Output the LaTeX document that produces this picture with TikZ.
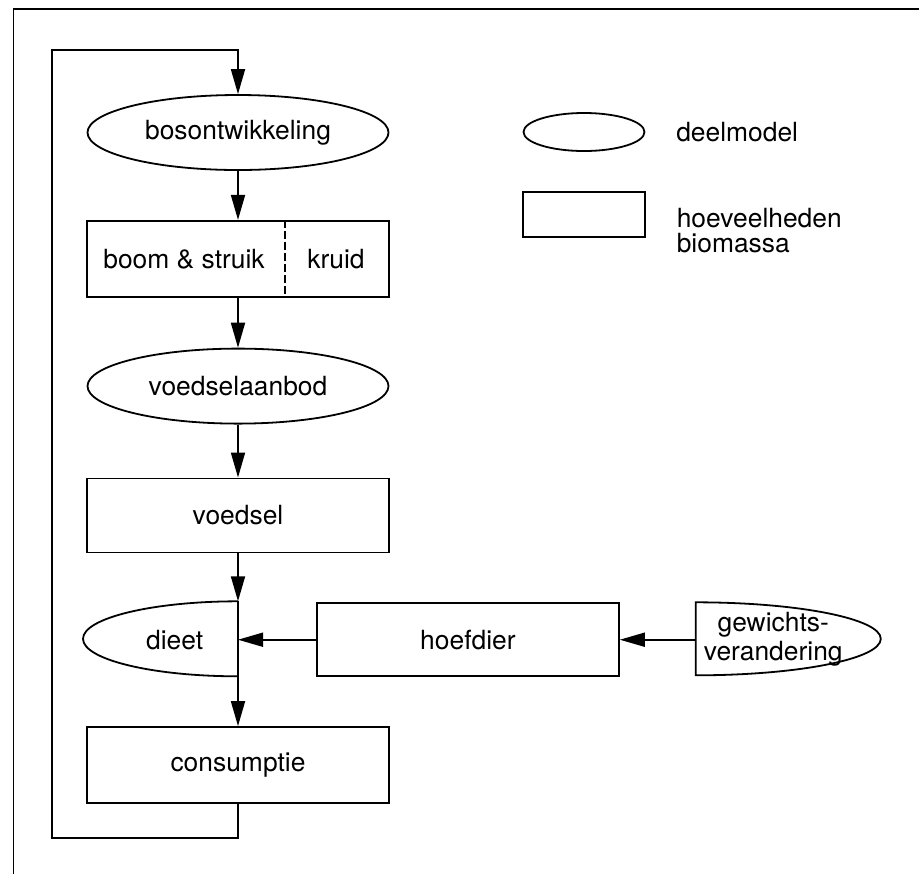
\documentclass[tikz,border=0pt]{standalone}
\usepackage{fontspec}
\setmainfont{TeX Gyre Heros}
\usetikzlibrary{arrows.meta,positioning,shapes.geometric}
\tikzset{
  deelmodel/.style={draw, ellipse, minimum width=150.5pt, minimum height=37.5pt, inner sep=0pt},
  biomassa/.style={draw, rectangle, minimum width=151pt, minimum height=38pt, inner sep=0pt},
  halfmodel/.style={minimum width=#1, minimum height=36.5pt, inner sep=0pt},
  plain/.style={inner sep=0pt, align=center},
  arrow/.style={-{Triangle[length=12.5pt, width=7pt]}},
  divider/.style={dash pattern=on 4pt off 1.5pt}
}

\begin{document}
\begin{tikzpicture}[node distance=24.5pt, line width=0.9pt, font=\fontsize{13.2}{14.5}\selectfont]
  \useasboundingbox (0,0) rectangle (459.5pt,-437pt);
  \draw (6.75pt,-437pt) |- (459.5pt,-4.5pt);

  \node[deelmodel] (bos) at (119pt,-66.25pt) {bosontwikkeling};
  \node[biomassa, below=of bos] (stock) {};
  \node[plain] (boom) at ([xshift=-27pt]stock.center) {boom \& struik};
  \node[plain] (kruid) at ([xshift=49pt]stock.center) {kruid};
  \draw[divider] ([xshift=23.5pt]stock.north) -- ([xshift=23.5pt]stock.south);
  \node[deelmodel, below=25pt of stock] (aanbod) {voedselaanbod};
  \node[biomassa, below=26.5pt of aanbod, minimum height=37pt] (voedsel) {voedsel};
  \node[halfmodel=77.5pt, below=24pt of voedsel, anchor=north east, minimum height=37.5pt] (dieet) {};
  \node[plain] (dieettxt) at ([xshift=7.5pt]dieet.center) {dieet};
  \node[biomassa, below=24pt of dieet.south east] (cons) {consumptie};
  \node[biomassa, right=39pt of dieet, minimum height=36.5pt] (hoef) {hoefdier};
  \node[halfmodel=92.5pt, right=38pt of hoef] (gew) {};
  \node[plain] (gewtxt) at ([xshift=-8pt]gew.center) {gewichts-\\verandering};
  \draw (dieet.north east) arc[start angle=90, end angle=270, x radius=77.5pt, y radius=18.75pt];
  \draw (gew.north west) arc[start angle=90, end angle=-90, x radius=92.5pt, y radius=18.25pt] -- cycle;

  \node[deelmodel, minimum width=60.5pt, minimum height=19pt] (legmodel) at (292pt,-66pt) {};
  \node[biomassa, minimum width=61pt, minimum height=22.5pt] (legbox) at (292pt,-107.25pt) {};
  \node[plain, right=15pt of legmodel] (legmodeltxt) {deelmodel};
  \node[plain, align=left, anchor=north west, font=\fontsize{13.2}{12.5}\selectfont] (legboxtxt) at ([xshift=15pt, yshift=-8pt]legbox.north east) {hoeveelheden\\biomassa};

  \coordinate (loopbl) at (26pt,-419pt);
  \coordinate (looptl) at (26pt,-25pt);
  \draw[arrow] (cons.south) |- (loopbl) -- (looptl) -| (bos.north);
  \draw[arrow] (bos) -- (stock);
  \draw[arrow] (stock) -- (aanbod);
  \draw[arrow] (aanbod) -- (voedsel);
  \draw[arrow] (voedsel.south) -- (dieet.north east);
  \draw (dieet.north east) -- (dieet.south east);
  \draw[arrow] (dieet.south east) -- (cons);
  \draw[arrow] (hoef) -- (dieet.east);
  \draw[arrow] (gew) -- (hoef);
\end{tikzpicture}
\end{document}
